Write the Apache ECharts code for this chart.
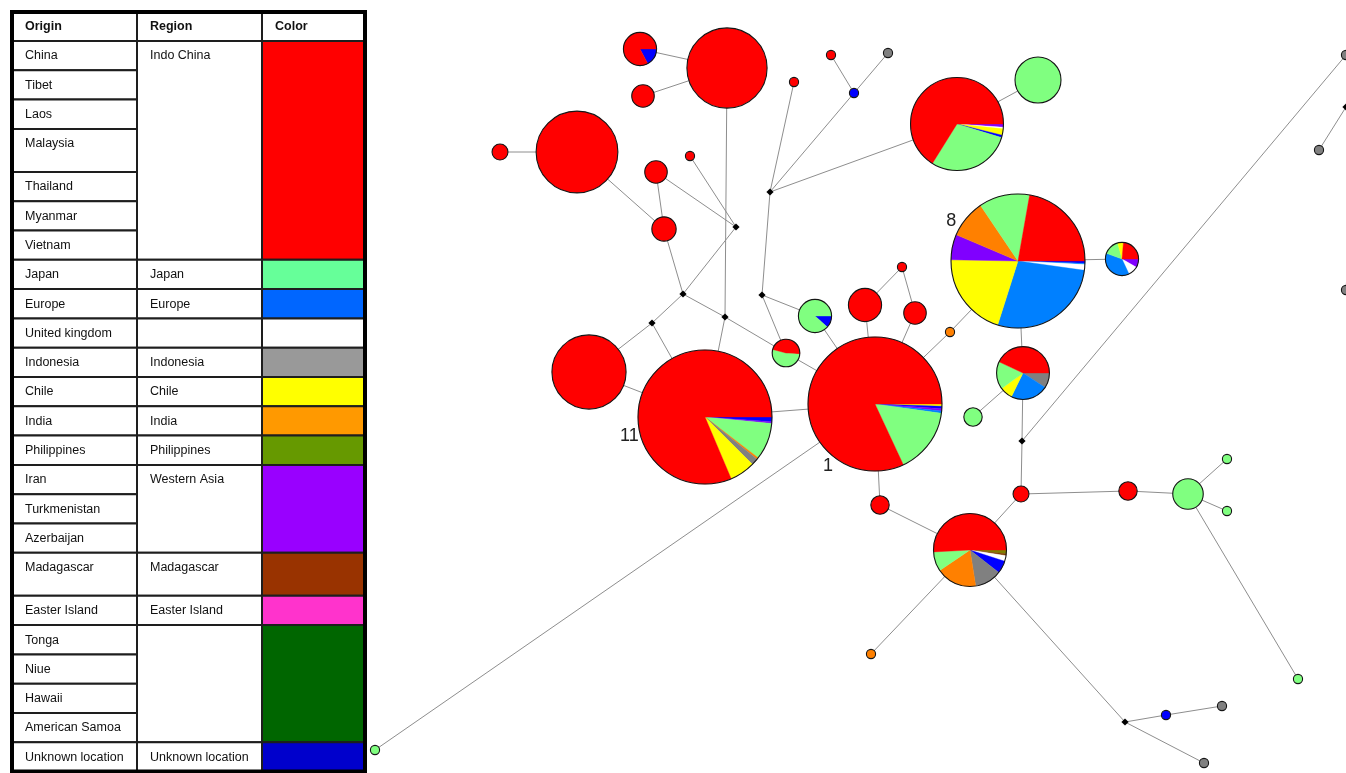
<!DOCTYPE html>
<html>
<head>
<meta charset="utf-8">
<title>Haplotype network</title>
<script src="https://cdn.jsdelivr.net/npm/echarts@6/dist/echarts.min.js"></script>
<style>
  html, body { margin: 0; padding: 0; background: #ffffff; }
  #main { width: 1346px; height: 773px; }
</style>
</head>
<body>
<div id="main"></div>
<script>
// ---------- legend table ----------
const HEADERS = ['Origin', 'Region', 'Color'];
const ORIGINS = ['China', 'Tibet', 'Laos', 'Malaysia', 'Thailand', 'Myanmar', 'Vietnam',
  'Japan', 'Europe', 'United kingdom', 'Indonesia', 'Chile', 'India', 'Philippines',
  'Iran', 'Turkmenistan', 'Azerbaijan', 'Madagascar', 'Easter Island',
  'Tonga', 'Niue', 'Hawaii', 'American Samoa', 'Unknown location'];
const REGION_NAMES = ['Indo China', 'Japan', 'Europe', '', 'Indonesia', 'Chile', 'India',
  'Philippines', 'Western Asia', 'Madagascar', 'Easter Island', '', 'Unknown location'];
const REGION_SPANS = [7, 1, 1, 1, 1, 1, 1, 1, 3, 1, 1, 4, 1];
const REGION_KEYS = ['IC', 'JP', 'EU', 'UK', 'ID', 'CL', 'IN', 'PH', 'WA', 'MG', 'EI', 'PO', 'UN'];
const LEGEND_COLORS = ['#FF0000', '#66FF99', '#0066FF', '#FFFFFF', '#999999', '#FFFF00', '#FF9900',
  '#669900', '#9900FF', '#993300', '#FF33CC', '#006600', '#0000CC'];

// ---------- network: haplotypes [id, x, y, sample count, composition] ----------
const HAPLOTYPES = [
  ['11', 705, 417, 212, [['UN', 4], ['WA', 1.5], ['JP', 32], ['IN', 1.5], ['ID', 6], ['CL', 22], ['IC', 293]]],
  ['1', 875, 404, 212, [['CL', 2], ['UN', 2], ['WA', 2], ['EU', 2], ['JP', 57], ['IC', 295]]],
  ['8', 1018, 261, 212, [['UN', 2], ['EU', 1], ['UK', 5], ['EU', 99.6], ['CL', 73.4], ['WA', 22], ['IN', 33], ['JP', 44], ['IC', 80]]],
  ['h03', 957, 124, 102, [['WA', 4], ['UK', 2], ['CL', 8], ['UN', 3], ['JP', 105], ['IC', 238]]],
  ['h04', 1038, 80, 25, [['JP', 1]]],
  ['h05', 970, 550, 63, [['PH', 6], ['MG', 3], ['UK', 9], ['UN', 20], ['ID', 43], ['IN', 65], ['JP', 31], ['IC', 183]]],
  ['h06', 1122, 259, 13, [['WA', 30], ['UK', 35], ['EU', 135], ['JP', 55], ['CL', 20], ['IC', 85]]],
  ['h07', 1023, 373, 33, [['ID', 33], ['EU', 83], ['CL', 28], ['JP', 61], ['IC', 155]]],
  ['h08', 786, 353, 9, [['IC', 5], ['JP', 190], ['IC', 165]]],
  ['h09', 815, 316, 13, [['UN', 42], ['JP', 318]]],
  ['h10', 640, 49, 13, [['UN', 62], ['IC', 298]]],
  ['h11', 727, 68, 76, [['IC', 1]]],
  ['h12', 643, 96, 6, [['IC', 1]]],
  ['h13', 577, 152, 79, [['IC', 1]]],
  ['h14', 500, 152, 3, [['IC', 1]]],
  ['h15', 656, 172, 6, [['IC', 1]]],
  ['h16', 690, 156, 1, [['IC', 1]]],
  ['h17', 664, 229, 7, [['IC', 1]]],
  ['h18', 589, 372, 65, [['IC', 1]]],
  ['h19', 865, 305, 13, [['IC', 1]]],
  ['h20', 915, 313, 6, [['IC', 1]]],
  ['h21', 902, 267, 1, [['IC', 1]]],
  ['h22', 880, 505, 4, [['IC', 1]]],
  ['h23', 1021, 494, 3, [['IC', 1]]],
  ['h24', 1128, 491, 4, [['IC', 1]]],
  ['h25', 794, 82, 1, [['IC', 1]]],
  ['h26', 831, 55, 1, [['IC', 1]]],
  ['h27', 973, 417, 4, [['JP', 1]]],
  ['h28', 1188, 494, 11, [['JP', 1]]],
  ['h29', 1227, 459, 1, [['JP', 1]]],
  ['h30', 1227, 511, 1, [['JP', 1]]],
  ['h31', 1298, 679, 1, [['JP', 1]]],
  ['h32', 375, 750, 1, [['JP', 1]]],
  ['h33', 888, 53, 1, [['ID', 1]]],
  ['h34', 1222, 706, 1, [['ID', 1]]],
  ['h35', 1204, 763, 1, [['ID', 1]]],
  ['h36', 1319, 150, 1, [['ID', 1]]],
  ['h37', 1346, 55, 1, [['ID', 1]]],
  ['h38', 1346, 290, 1, [['ID', 1]]],
  ['h39', 854, 93, 1, [['UN', 1]]],
  ['h40', 1166, 715, 1, [['UN', 1]]],
  ['h41', 950, 332, 1, [['IN', 1]]],
  ['h42', 871, 654, 1, [['IN', 1]]]
];

// median vectors (inferred, unsampled) [id, x, y]
const MEDIAN_VECTORS = [
  ['mv1', 736, 227], ['mv2', 770, 192], ['mv3', 683, 294], ['mv4', 652, 323],
  ['mv5', 725, 317], ['mv6', 762, 295], ['mv7', 1022, 441], ['mv8', 1125, 722],
  ['mv9', 1346, 107], ['mv10', 1352, 190]
];

const LINKS = [
  ['h10', 'h11'], ['h12', 'h11'], ['h11', 'mv5'], ['h13', 'h14'], ['h13', 'h17'],
  ['h15', 'h17'], ['h15', 'mv1'], ['h16', 'mv1'], ['h17', 'mv3'], ['mv1', 'mv3'],
  ['mv3', 'mv4'], ['mv3', 'mv5'], ['mv4', 'h18'], ['mv4', '11'], ['mv5', '11'],
  ['mv5', 'h08'], ['h18', '11'], ['11', '1'], ['h08', '1'], ['mv6', 'mv2'],
  ['mv6', 'h08'], ['mv6', 'h09'], ['h09', '1'], ['h19', '1'], ['h20', '1'],
  ['h21', 'h19'], ['h21', 'h20'], ['h41', '1'], ['h41', '8'], ['mv2', 'h25'],
  ['mv2', 'h39'], ['mv2', 'h03'], ['h39', 'h26'], ['h39', 'h33'], ['h03', 'h04'],
  ['8', 'h06'], ['8', 'h07'], ['h07', 'h27'], ['h07', 'mv7'], ['mv7', 'h37'],
  ['mv7', 'h23'], ['h23', 'h05'], ['h23', 'h24'], ['h24', 'h28'], ['h28', 'h29'],
  ['h28', 'h30'], ['h28', 'h31'], ['h05', 'h22'], ['h22', '1'], ['h05', 'h42'],
  ['h05', 'mv8'], ['mv8', 'h40'], ['h40', 'h34'], ['mv8', 'h35'], ['h32', '1'],
  ['h36', 'mv9'], ['h38', 'mv10']
];

// haplotypes carrying a number label
const LABELLED = ['11', '1', '8'];

// ---------- styling ----------
const NODE_COLORS = {
  IC: '#FF0000', JP: '#80FF80', EU: '#0080FF', UK: '#FFFFFF', ID: '#808080',
  CL: '#FFFF00', IN: '#FF8000', PH: '#808000', WA: '#8000FF', MG: '#804000',
  EI: '#FF33CC', PO: '#006600', UN: '#0000FF'
};
const RADIUS_UNIT = 4.6;              // node radius = unit * sqrt(count)
const LABEL_ANGLE = { '11': 166, '1': 127, '8': 211 };   // degrees, clockwise from east
const FONT = '"Liberation Sans", Arial, Helvetica, sans-serif';

const nodeById = {};
HAPLOTYPES.forEach(h => { nodeById[h[0]] = { x: h[1], y: h[2] }; });
MEDIAN_VECTORS.forEach(m => { nodeById[m[0]] = { x: m[1], y: m[2] }; });

const nodeData = HAPLOTYPES.map(h => [h[1], h[2], h[3]])
  .concat(MEDIAN_VECTORS.map(m => [m[1], m[2], 0]));
const nodeMix = HAPLOTYPES.map(h => h[4]).concat(MEDIAN_VECTORS.map(() => null));
const nodeIds = HAPLOTYPES.map(h => h[0]).concat(MEDIAN_VECTORS.map(m => m[0]));

const linkData = LINKS.map(([a, b]) => [nodeById[a].x, nodeById[a].y, nodeById[b].x, nodeById[b].y]);

function renderLink(params, api) {
  const p1 = api.coord([api.value(0), api.value(1)]);
  const p2 = api.coord([api.value(2), api.value(3)]);
  return {
    type: 'line',
    shape: { x1: p1[0], y1: p1[1], x2: p2[0], y2: p2[1] },
    style: { stroke: '#8e8e8e', lineWidth: 1 }
  };
}

function renderNode(params, api) {
  const i = params.dataIndex;
  const c = api.coord([api.value(0), api.value(1)]);
  const count = api.value(2);
  if (!count) {
    const s = 3.6;
    return {
      type: 'polygon',
      shape: { points: [[c[0], c[1] - s], [c[0] + s, c[1]], [c[0], c[1] + s], [c[0] - s, c[1]]] },
      style: { fill: '#000000' }
    };
  }
  const r = api.size([RADIUS_UNIT * Math.sqrt(count), 0])[0];
  const mix = nodeMix[i];
  const total = mix.reduce((s, m) => s + m[1], 0);
  const children = [];
  if (mix.length === 1) {
    children.push({ type: 'circle', shape: { cx: c[0], cy: c[1], r: r },
      style: { fill: NODE_COLORS[mix[0][0]] } });
  } else {
    let a = 0;
    mix.forEach(([key, w]) => {
      const a1 = a + (w / total) * Math.PI * 2;
      const col = NODE_COLORS[key];
      children.push({
        type: 'sector',
        shape: { cx: c[0], cy: c[1], r: r, r0: 0, startAngle: a, endAngle: a1, clockwise: true },
        style: { fill: col, stroke: col, lineWidth: 0.4 }
      });
      a = a1;
    });
  }
  children.push({ type: 'circle', shape: { cx: c[0], cy: c[1], r: r },
    style: { fill: 'none', stroke: '#151515', lineWidth: 1.1 } });
  const id = nodeIds[i];
  if (LABELLED.indexOf(id) >= 0) {
    const ang = LABEL_ANGLE[id] * Math.PI / 180;
    const d = r + 11;
    children.push({
      type: 'text',
      x: c[0] + Math.cos(ang) * d,
      y: c[1] + Math.sin(ang) * d,
      style: { text: id, font: '18px ' + FONT, fill: '#222222', align: 'center', verticalAlign: 'middle' }
    });
  }
  return { type: 'group', children: children };
}

// ---------- legend table layout ----------
const COLS = [12, 137, 262, 365];
const TOP = 12, HEAD_H = 29, ROW_H = 29.3, TALL_H = 43;
const TALL_ROWS = new Set(['Malaysia', 'Madagascar']);
const rowTops = [];
let yy = TOP + HEAD_H;
ORIGINS.forEach(o => { rowTops.push(yy); yy += TALL_ROWS.has(o) ? TALL_H : ROW_H; });
const tableBottom = yy;

const cellStroke = { stroke: '#1e1e1e', lineWidth: 2 };
const textStyle = (t, x, y, bold) => ({
  type: 'text', x: x, y: y, z: 10,
  style: { text: t, font: (bold ? 'bold ' : '') + '12.5px ' + FONT, fill: '#111111', verticalAlign: 'middle' }
});

const graphics = [];
graphics.push({ type: 'rect', z: 5, shape: { x: COLS[0], y: TOP, width: COLS[3] - COLS[0], height: tableBottom - TOP },
  style: { fill: '#ffffff' } });
// header
HEADERS.forEach((h, k) => {
  graphics.push({ type: 'rect', z: 6, shape: { x: COLS[k], y: TOP, width: COLS[k + 1] - COLS[k], height: HEAD_H },
    style: Object.assign({ fill: '#ffffff' }, cellStroke) });
  graphics.push(textStyle(h, COLS[k] + 13, TOP + 14.5, true));
});
// origin column
ORIGINS.forEach((o, k) => {
  const h = (k + 1 < rowTops.length ? rowTops[k + 1] : tableBottom) - rowTops[k];
  graphics.push({ type: 'rect', z: 6, shape: { x: COLS[0], y: rowTops[k], width: COLS[1] - COLS[0], height: h },
    style: Object.assign({ fill: '#ffffff' }, cellStroke) });
  graphics.push(textStyle(o, COLS[0] + 13, rowTops[k] + 15, false));
});
// region and color columns
let rowIdx = 0;
REGION_SPANS.forEach((span, g) => {
  const y0 = rowTops[rowIdx];
  const y1 = rowIdx + span < rowTops.length ? rowTops[rowIdx + span] : tableBottom;
  graphics.push({ type: 'rect', z: 6, shape: { x: COLS[1], y: y0, width: COLS[2] - COLS[1], height: y1 - y0 },
    style: Object.assign({ fill: '#ffffff' }, cellStroke) });
  if (REGION_NAMES[g]) graphics.push(textStyle(REGION_NAMES[g], COLS[1] + 13, y0 + 15, false));
  graphics.push({ type: 'rect', z: 6, shape: { x: COLS[2], y: y0, width: COLS[3] - COLS[2], height: y1 - y0 },
    style: Object.assign({ fill: LEGEND_COLORS[g] }, cellStroke) });
  rowIdx += span;
});
// outer frame
graphics.push({ type: 'rect', z: 8, shape: { x: COLS[0], y: TOP, width: COLS[3] - COLS[0], height: tableBottom - TOP },
  style: { fill: 'none', stroke: '#000000', lineWidth: 4 } });

const chart = echarts.init(document.getElementById('main'));
chart.setOption({
  animation: false,
  backgroundColor: '#ffffff',
  grid: { left: 0, right: 0, top: 0, bottom: 0 },
  xAxis: { type: 'value', min: 0, max: 1346, show: false },
  yAxis: { type: 'value', min: 0, max: 773, inverse: true, show: false },
  graphic: graphics,
  series: [
    { type: 'custom', name: 'links', renderItem: renderLink, data: linkData,
      encode: { x: [0, 2], y: [1, 3] }, z: 1, silent: true },
    { type: 'custom', name: 'haplotypes', renderItem: renderNode, data: nodeData,
      encode: { x: 0, y: 1 }, z: 2, silent: true }
  ]
});
</script>
</body>
</html>
